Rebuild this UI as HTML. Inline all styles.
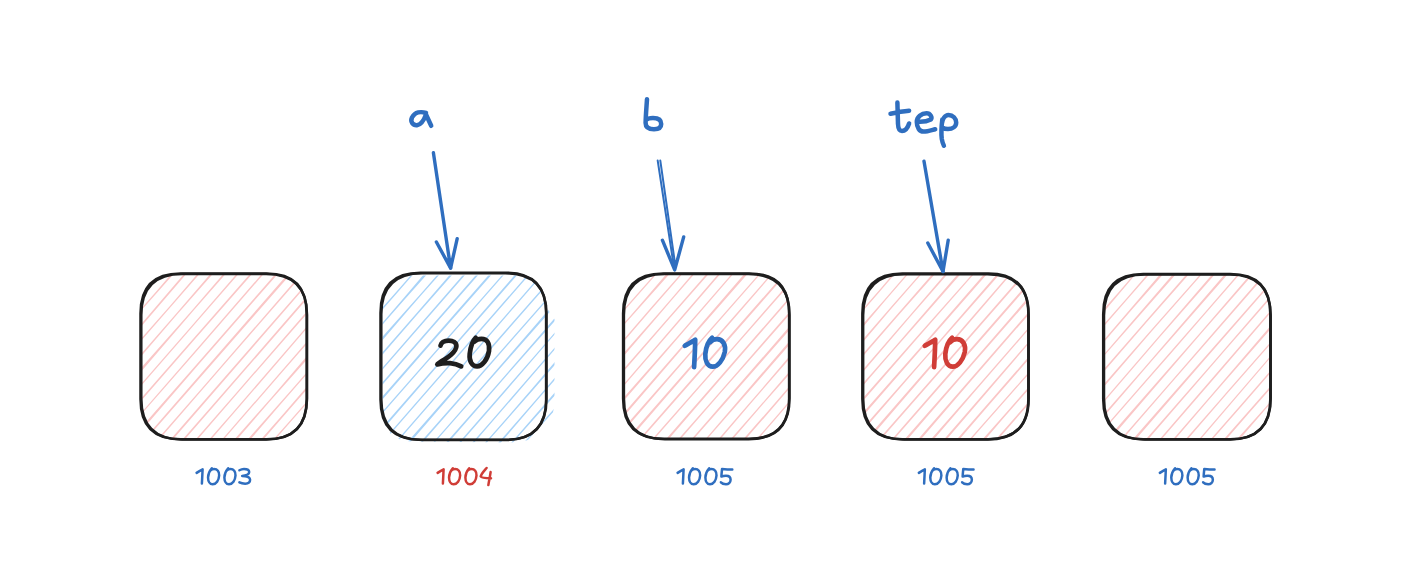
<!DOCTYPE html><html><head><meta charset="utf-8"><style>html,body{margin:0;padding:0;background:#fff;font-family:"Liberation Sans",sans-serif;width:1414px;height:580px;overflow:hidden}svg{display:block}</style></head><body>
<svg width="1414" height="580" viewBox="0 0 1414 580">
<defs>
<clipPath id="c0"><path d="M181.70,274.60 L266.05,274.60 Q306.05,274.60 306.05,314.60 L306.05,398.60 Q306.05,438.60 266.05,438.60 L181.70,438.60 Q141.70,438.60 141.70,398.60 L141.70,314.60 Q141.70,274.60 181.70,274.60 Z"/></clipPath>
<clipPath id="c1"><path d="M414,275.5 L514,275.5 Q545,275.5 545.5,306 L554.5,319 L554.5,398 Q554.5,442.5 509,442.5 L413,441.5 Q382.5,441.5 382.5,409 L382.5,306 Q382.5,275.5 414,275.5 Z"/></clipPath>
<clipPath id="c2"><path d="M664.30,274.50 L748.50,274.50 Q788.50,274.50 788.50,314.50 L788.50,398.20 Q788.50,438.20 748.50,438.20 L664.30,438.20 Q624.30,438.20 624.30,398.20 L624.30,314.50 Q624.30,274.50 664.30,274.50 Z"/></clipPath>
<clipPath id="c3"><path d="M903.55,274.70 L987.70,274.70 Q1027.70,274.70 1027.70,314.70 L1027.70,398.50 Q1027.70,438.50 987.70,438.50 L903.55,438.50 Q863.55,438.50 863.55,398.50 L863.55,314.70 Q863.55,274.70 903.55,274.70 Z"/></clipPath>
<clipPath id="c4"><path d="M1144.40,275.10 L1229.70,275.10 Q1269.70,275.10 1269.70,315.10 L1269.70,398.50 Q1269.70,438.50 1229.70,438.50 L1144.40,438.50 Q1104.40,438.50 1104.40,398.50 L1104.40,315.10 Q1104.40,275.10 1144.40,275.10 Z"/></clipPath>
</defs>
<rect width="100%" height="100%" fill="#fff"/>
<path d="M135.69,271.37Q137.19,269.95 137.87,268.43 M135.94,271.59Q136.83,270.18 138.13,268.66 M135.34,285.97Q143.31,277.41 151.16,268.73 M135.81,286.37Q143.35,277.48 151.64,269.14 M136.05,301.49Q150.09,285.02 164.74,269.27 M136.48,301.85Q150.26,284.97 163.65,268.32 M135.47,315.88Q156.41,292.69 176.69,268.40 M135.51,315.92Q156.61,292.46 177.25,268.89 M135.96,331.20Q162.73,299.82 189.57,268.34 M136.12,331.34Q162.89,300.02 190.01,268.72 M135.84,346.00Q169.65,307.53 202.81,268.59 M135.59,345.78Q169.49,307.62 203.14,268.88 M136.18,361.19Q176.24,314.68 215.75,268.58 M135.80,360.87Q175.74,314.87 216.32,269.07 M135.34,375.37Q182.59,322.36 229.16,268.98 M136.35,376.25Q182.55,322.38 228.73,268.60 M136.00,390.84Q189.11,330.01 241.86,268.75 M135.87,390.72Q188.64,329.88 242.11,268.97 M136.08,405.81Q195.58,337.11 255.46,269.32 M135.76,405.53Q195.09,337.21 255.07,268.98 M135.50,420.20Q201.59,344.82 267.35,268.40 M135.45,420.16Q201.79,344.87 267.51,268.54 M135.39,435.01Q208.36,352.33 280.71,268.75 M136.29,435.79Q208.20,352.08 281.21,269.18 M136.56,449.25Q215.50,358.92 294.18,269.20 M136.34,449.06Q215.06,359.09 293.40,268.52 M149.79,449.49Q227.88,359.06 306.39,268.55 M149.52,449.26Q228.45,359.20 306.75,268.87 M162.65,449.42Q241.24,358.87 319.77,268.92 M163.11,449.82Q241.35,359.26 319.96,269.09 M175.45,449.29Q248.48,365.34 321.73,281.03 M175.06,448.94Q248.54,365.09 321.33,280.69 M188.34,449.23Q254.89,372.54 321.31,295.57 M188.06,448.98Q254.91,372.92 321.69,295.90 M201.63,449.52Q261.52,380.09 321.43,310.57 M201.33,449.26Q261.88,380.43 321.39,310.54 M214.40,449.36Q267.90,387.41 321.83,325.82 M214.25,449.23Q268.34,387.44 321.57,325.59 M226.82,448.90Q274.64,394.88 322.39,341.21 M227.45,449.45Q274.64,395.32 321.28,340.24 M240.79,449.78Q280.95,402.45 322.09,355.85 M239.94,449.05Q281.12,402.67 322.18,355.93 M253.09,449.22Q287.76,410.22 321.52,370.25 M253.72,449.77Q287.77,410.10 322.22,370.86 M265.92,449.11Q293.96,417.17 321.87,385.46 M265.68,448.90Q293.91,417.52 321.58,385.21 M279.75,449.88Q300.79,425.13 321.79,400.29 M279.75,449.88Q300.36,424.73 321.69,400.20 M291.79,449.08Q307.08,432.53 321.49,414.93 M292.57,449.76Q307.10,432.48 321.83,415.22 M304.61,448.96Q313.73,439.92 322.04,430.31 M305.41,449.66Q313.29,439.92 321.82,430.12 M317.86,449.22Q320.24,447.17 322.21,445.36 M317.94,449.30Q320.09,447.05 322.39,445.51" stroke="#fac6c6" stroke-width="1.25" fill="none" clip-path="url(#c0)"/>
<path d="M180.50,273.50 L266.65,273.50 Q306.65,273.50 306.65,313.50 L306.65,399.25 Q306.65,439.25 266.65,439.25 L180.50,439.25 Q140.50,439.25 140.50,399.25 L140.50,313.50 Q140.50,273.50 180.50,273.50 Z" stroke="#1e1e1e" stroke-width="2.5" fill="none"/>
<path d="M182.30,274.10 L266.05,274.10 Q307.05,274.10 307.05,315.10 L307.05,398.55 Q307.05,439.55 266.05,439.55 L182.30,439.55 Q141.30,439.55 141.30,398.55 L141.30,315.10 Q141.30,274.10 182.30,274.10 Z" stroke="#1e1e1e" stroke-width="2.5" fill="none"/>
<path d="M375.45,271.36Q377.78,270.04 378.74,267.63 M375.47,271.38Q377.82,269.96 379.56,268.34 M375.72,286.49Q383.78,277.07 392.17,268.05 M376.47,287.15Q384.02,277.55 392.29,268.16 M375.82,301.48Q390.68,284.62 405.52,268.39 M375.60,301.29Q390.33,284.82 404.82,267.78 M375.61,316.20Q396.74,292.44 417.92,267.91 M375.72,316.30Q397.01,292.44 417.97,267.96 M375.80,331.27Q403.44,299.69 431.48,268.44 M375.93,331.38Q403.40,299.51 430.39,267.49 M375.30,345.73Q409.71,307.11 444.28,268.31 M376.17,346.49Q409.81,307.14 443.99,268.06 M375.97,361.21Q416.15,314.61 457.22,268.30 M375.60,360.89Q416.55,314.58 456.61,267.77 M375.97,376.12Q423.11,322.00 470.14,268.27 M376.04,376.17Q422.87,322.13 469.83,268.01 M375.84,390.90Q429.33,329.71 482.82,268.03 M376.14,391.16Q429.61,329.35 483.24,268.40 M375.97,405.91Q436.02,336.74 496.27,268.47 M375.44,405.45Q435.56,336.79 495.66,267.94 M375.38,420.30Q442.46,344.58 508.89,268.18 M375.48,420.39Q442.39,344.19 508.95,268.23 M376.36,436.05Q448.60,352.06 522.20,268.49 M375.78,435.55Q449.06,352.00 521.62,267.99 M376.06,449.54Q455.54,358.87 534.51,267.93 M376.10,449.58Q455.66,358.70 534.37,267.81 M389.48,449.96Q468.19,358.86 547.47,267.94 M389.57,450.03Q468.22,359.20 547.56,268.01 M402.72,450.20Q481.19,358.83 561.06,268.50 M401.82,449.42Q481.29,358.76 560.83,268.29 M415.23,449.82Q488.50,365.81 561.80,282.41 M414.90,449.53Q488.35,366.04 561.81,282.41 M427.78,449.47Q494.90,373.35 560.77,296.41 M427.76,449.45Q494.87,373.55 561.83,297.33 M440.73,449.46Q501.00,381.03 561.73,312.15 M441.17,449.85Q501.30,381.06 561.11,311.60 M453.90,449.66Q507.76,388.15 560.85,326.28 M453.71,449.49Q507.47,388.13 560.89,326.32 M466.91,449.70Q514.37,395.63 561.06,341.37 M467.13,449.90Q514.12,395.48 560.91,341.24 M479.78,449.64Q520.83,403.21 560.71,355.96 M479.71,449.57Q520.96,402.98 561.27,356.45 M493.42,450.23Q527.17,410.81 561.22,371.30 M492.91,449.79Q527.28,410.89 561.31,371.38 M505.80,449.73Q533.77,418.16 561.70,386.62 M505.88,449.80Q533.38,417.89 561.12,386.11 M518.42,449.45Q539.97,425.36 561.59,401.43 M518.44,449.46Q540.35,425.63 561.71,401.53 M531.63,449.67Q546.47,432.97 560.99,415.80 M531.48,449.54Q546.45,433.23 561.23,416.02 M545.42,450.40Q552.92,440.68 561.36,431.02 M544.62,449.70Q552.77,440.37 561.13,430.82 M557.77,449.87Q559.37,447.89 561.30,445.88 M557.20,449.38Q559.30,447.83 561.02,445.63" stroke="#a8d3f8" stroke-width="1.25" fill="none" clip-path="url(#c1)"/>
<path d="M420.50,272.70 L506.10,272.70 Q546.10,272.70 546.10,312.70 L546.10,399.75 Q546.10,439.75 506.10,439.75 L420.50,439.75 Q380.50,439.75 380.50,399.75 L380.50,312.70 Q380.50,272.70 420.50,272.70 Z" stroke="#1e1e1e" stroke-width="2.5" fill="none"/>
<path d="M422.30,273.30 L505.50,273.30 Q546.50,273.30 546.50,314.30 L546.50,399.05 Q546.50,440.05 505.50,440.05 L422.30,440.05 Q381.30,440.05 381.30,399.05 L381.30,314.30 Q381.30,273.30 422.30,273.30 Z" stroke="#1e1e1e" stroke-width="2.5" fill="none"/>
<path d="M617.95,270.97Q619.58,269.94 620.32,268.20 M618.60,271.54Q619.85,270.16 620.93,268.73 M618.76,286.58Q626.11,277.43 634.30,269.10 M619.09,286.86Q626.31,277.60 633.42,268.33 M617.95,300.77Q632.89,285.04 647.20,269.05 M618.78,301.50Q632.43,284.99 647.17,269.03 M618.51,316.16Q639.31,292.60 660.15,269.05 M618.60,316.24Q639.24,292.53 660.22,269.11 M618.17,330.77Q645.38,299.80 672.14,268.21 M618.02,330.64Q645.64,299.94 673.11,269.05 M618.65,346.08Q652.07,307.07 685.87,268.89 M618.86,346.26Q652.08,307.34 685.95,268.96 M618.69,361.02Q658.70,314.65 698.08,268.24 M617.99,360.41Q658.69,314.62 698.32,268.45 M618.79,376.00Q665.03,322.16 712.13,269.20 M618.47,375.73Q665.19,322.29 711.78,268.89 M618.67,390.80Q671.29,329.55 724.00,268.26 M618.79,390.91Q671.55,329.42 724.27,268.49 M617.97,405.09Q678.09,337.23 737.18,268.46 M618.71,405.74Q677.99,337.11 737.21,268.48 M618.46,420.42Q684.70,344.42 749.96,268.30 M619.08,420.95Q684.17,344.55 750.94,269.16 M618.89,435.69Q690.90,351.90 763.93,269.19 M618.15,435.05Q690.76,352.07 763.91,269.17 M619.16,448.62Q698.23,358.66 776.35,268.73 M619.97,449.34Q698.19,358.96 776.33,268.71 M632.22,448.72Q710.90,358.60 789.75,269.12 M631.94,448.48Q710.88,358.75 789.26,268.69 M645.06,448.62Q723.75,359.03 802.04,268.54 M644.89,448.48Q724.06,358.65 802.53,268.96 M658.96,449.45Q731.62,365.00 804.56,281.44 M658.29,448.87Q731.67,365.15 804.17,281.10 M671.23,448.85Q737.71,372.32 804.21,296.04 M670.92,448.58Q737.72,372.79 804.70,296.46 M684.05,448.74Q744.33,379.84 804.02,310.77 M684.20,448.87Q744.56,380.17 804.85,311.49 M697.46,449.14Q751.07,387.48 804.80,326.35 M697.57,449.23Q750.94,387.43 803.76,325.44 M710.56,449.27Q757.15,394.67 804.47,340.97 M710.77,449.45Q757.26,394.82 803.85,340.42 M722.96,448.79Q764.04,402.23 804.59,355.96 M723.40,449.16Q763.79,402.30 804.06,355.50 M735.76,448.65Q770.05,410.02 803.89,370.26 M736.16,449.00Q770.48,410.07 803.96,370.32 M749.05,448.95Q776.52,417.04 803.86,385.14 M748.92,448.83Q776.55,417.13 803.81,385.08 M762.15,449.07Q783.33,424.66 804.77,400.82 M761.96,448.91Q783.11,424.62 804.33,400.44 M774.49,448.54Q789.94,431.96 804.03,415.08 M775.02,449.00Q789.88,432.01 804.46,415.45 M787.69,448.76Q796.07,439.58 804.00,429.95 M788.52,449.48Q796.36,439.36 804.72,430.58 M800.36,448.51Q802.85,447.04 804.55,445.33 M801.03,449.09Q802.55,447.28 803.70,444.59" stroke="#fac6c6" stroke-width="1.25" fill="none" clip-path="url(#c2)"/>
<path d="M663.10,273.40 L749.10,273.40 Q789.10,273.40 789.10,313.40 L789.10,398.85 Q789.10,438.85 749.10,438.85 L663.10,438.85 Q623.10,438.85 623.10,398.85 L623.10,313.40 Q623.10,273.40 663.10,273.40 Z" stroke="#1e1e1e" stroke-width="2.5" fill="none"/>
<path d="M664.90,274.00 L748.50,274.00 Q789.50,274.00 789.50,315.00 L789.50,398.15 Q789.50,439.15 748.50,439.15 L664.90,439.15 Q623.90,439.15 623.90,398.15 L623.90,315.00 Q623.90,274.00 664.90,274.00 Z" stroke="#1e1e1e" stroke-width="2.5" fill="none"/>
<path d="M858.14,271.99Q859.23,270.14 860.57,269.27 M857.28,271.24Q858.96,270.37 859.72,268.54 M858.28,287.02Q865.51,277.86 873.36,269.13 M857.70,286.51Q865.14,277.87 873.16,268.95 M857.43,301.17Q871.99,285.07 886.55,269.34 M857.30,301.06Q871.98,285.28 885.75,268.64 M857.28,315.94Q878.39,292.67 898.48,268.45 M857.61,316.23Q878.44,292.37 898.67,268.61 M857.51,331.04Q885.13,300.15 911.90,268.86 M858.21,331.65Q884.69,299.94 911.92,268.87 M858.31,346.64Q891.21,307.27 925.15,269.11 M857.75,346.15Q891.28,307.40 925.11,269.08 M857.95,361.23Q897.64,314.73 938.37,269.35 M857.55,360.88Q897.91,314.82 937.76,268.82 M858.11,376.26Q904.28,322.27 951.10,269.15 M858.32,376.45Q904.47,322.28 950.58,268.70 M857.41,390.56Q910.63,330.11 964.08,269.17 M857.74,390.85Q910.59,329.83 963.38,268.57 M857.95,405.93Q917.02,337.27 977.26,269.37 M857.40,405.45Q917.02,337.09 977.29,269.40 M857.22,420.19Q923.95,344.98 989.54,268.79 M858.03,420.90Q923.97,344.69 990.27,269.42 M857.37,435.22Q930.33,351.98 1003.14,269.36 M857.95,435.72Q930.11,352.14 1002.47,268.77 M858.35,448.95Q937.03,359.02 1014.97,268.38 M859.30,449.78Q937.44,358.95 1015.12,268.51 M871.53,449.15Q950.31,359.06 1028.91,269.24 M871.16,448.83Q950.04,359.32 1028.49,268.87 M884.29,448.98Q963.31,358.85 1041.31,268.76 M884.55,449.21Q963.23,358.86 1041.85,269.23 M897.05,448.81Q970.81,365.26 1042.97,281.01 M897.91,449.56Q970.46,365.27 1043.98,281.89 M911.11,449.78Q976.89,372.95 1043.64,296.49 M910.34,449.11Q976.73,372.97 1043.23,296.14 M924.02,449.74Q983.77,380.04 1043.66,311.41 M923.19,449.02Q983.78,380.52 1043.47,311.24 M936.33,449.18Q989.94,387.73 1043.20,325.91 M936.98,449.75Q990.17,387.86 1043.12,325.84 M949.81,449.64Q996.52,395.10 1043.83,341.36 M949.20,449.11Q996.63,394.96 1043.33,340.93 M962.00,448.98Q1002.78,402.41 1043.81,356.24 M961.81,448.81Q1002.83,402.89 1043.56,356.03 M975.79,449.70Q1009.27,409.87 1044.09,371.38 M974.84,448.88Q1009.54,410.06 1043.50,370.87 M987.95,449.02Q1015.96,417.63 1043.40,385.68 M988.57,449.56Q1015.99,417.34 1043.92,386.14 M1001.64,449.66Q1022.40,424.92 1043.25,400.45 M1001.51,449.55Q1022.21,424.85 1043.14,400.36 M1013.76,448.94Q1028.89,432.34 1043.96,415.97 M1014.05,449.19Q1028.84,432.29 1044.09,416.09 M1027.50,449.62Q1035.61,439.68 1043.69,430.63 M1027.10,449.27Q1035.52,440.10 1043.89,430.81 M1039.53,448.82Q1041.56,447.17 1043.25,445.15 M1040.66,449.80Q1042.05,447.27 1043.60,445.46" stroke="#fac6c6" stroke-width="1.25" fill="none" clip-path="url(#c3)"/>
<path d="M902.35,273.60 L988.30,273.60 Q1028.30,273.60 1028.30,313.60 L1028.30,399.15 Q1028.30,439.15 988.30,439.15 L902.35,439.15 Q862.35,439.15 862.35,399.15 L862.35,313.60 Q862.35,273.60 902.35,273.60 Z" stroke="#1e1e1e" stroke-width="2.5" fill="none"/>
<path d="M904.15,274.20 L987.70,274.20 Q1028.70,274.20 1028.70,315.20 L1028.70,398.45 Q1028.70,439.45 987.70,439.45 L904.15,439.45 Q863.15,439.45 863.15,398.45 L863.15,315.20 Q863.15,274.20 904.15,274.20 Z" stroke="#1e1e1e" stroke-width="2.5" fill="none"/>
<path d="M1099.04,272.44Q1099.65,270.82 1100.93,269.25 M1099.14,272.52Q1099.85,270.74 1100.52,268.89 M1098.26,286.66Q1106.06,277.97 1113.79,269.16 M1098.30,286.69Q1106.36,277.97 1114.06,269.40 M1098.01,301.34Q1112.86,285.41 1126.69,269.12 M1098.37,301.65Q1112.93,285.60 1126.54,268.99 M1098.07,316.29Q1119.16,293.05 1139.37,268.88 M1098.77,316.90Q1119.02,293.13 1139.36,268.87 M1098.49,331.56Q1125.58,300.71 1152.54,269.07 M1098.37,331.45Q1125.61,300.43 1152.88,269.37 M1099.04,346.93Q1132.09,307.77 1166.35,269.82 M1098.88,346.79Q1131.88,308.14 1165.40,268.99 M1098.51,361.37Q1138.60,315.58 1179.09,269.64 M1098.55,361.41Q1138.36,315.40 1178.30,268.95 M1098.77,376.50Q1144.88,322.89 1192.15,269.73 M1098.44,376.22Q1144.92,322.71 1191.66,269.30 M1098.63,391.27Q1151.37,330.27 1205.12,269.75 M1098.97,391.57Q1151.42,330.08 1205.17,269.79 M1099.14,406.62Q1158.07,337.49 1218.14,269.80 M1099.11,406.60Q1158.33,337.79 1217.43,269.18 M1098.99,421.39Q1164.73,345.03 1230.11,268.94 M1098.48,420.95Q1164.76,345.01 1230.93,269.66 M1098.26,435.66Q1171.04,352.56 1243.35,269.19 M1098.14,435.56Q1171.17,352.83 1243.16,269.03 M1099.39,448.82Q1178.34,359.06 1256.50,269.37 M1100.36,449.66Q1178.24,359.33 1255.96,268.90 M1113.05,449.43Q1191.09,359.34 1269.14,269.10 M1112.81,449.22Q1191.11,359.27 1269.56,269.47 M1125.28,448.80Q1204.08,359.16 1282.47,269.42 M1126.17,449.58Q1204.06,359.13 1282.66,269.59 M1138.77,449.27Q1211.93,364.89 1285.03,280.14 M1138.31,448.87Q1212.16,364.68 1285.43,280.49 M1151.92,449.44Q1218.77,372.52 1285.00,295.01 M1151.77,449.31Q1218.63,372.31 1284.96,294.98 M1165.26,449.77Q1225.32,380.08 1285.06,309.97 M1164.99,449.54Q1224.92,380.08 1285.88,310.68 M1177.65,449.29Q1231.83,387.10 1286.05,325.73 M1178.01,449.60Q1231.32,387.20 1286.02,325.70 M1190.92,449.57Q1238.30,394.61 1285.09,339.79 M1191.00,449.63Q1238.06,394.94 1285.07,339.77 M1203.22,448.99Q1244.54,402.08 1285.21,354.80 M1203.01,448.81Q1244.33,402.40 1285.12,354.71 M1216.74,449.49Q1250.81,409.77 1285.98,370.36 M1216.06,448.90Q1251.09,409.55 1285.54,369.98 M1229.92,449.69Q1257.53,417.27 1285.57,384.91 M1229.00,448.88Q1257.56,417.02 1286.10,385.37 M1242.78,449.61Q1264.26,424.56 1285.22,399.50 M1242.26,449.15Q1263.93,424.35 1285.82,400.03 M1255.67,449.56Q1270.63,431.84 1284.95,414.17 M1255.55,449.45Q1270.49,432.06 1286.08,415.16 M1268.10,449.10Q1276.63,439.24 1284.90,429.03 M1268.47,449.42Q1276.92,439.63 1285.42,429.48 M1280.84,448.91Q1283.48,446.62 1285.17,444.16 M1280.68,448.78Q1283.15,446.80 1285.32,444.30" stroke="#fac6c6" stroke-width="1.25" fill="none" clip-path="url(#c4)"/>
<path d="M1143.20,274.00 L1230.30,274.00 Q1270.30,274.00 1270.30,314.00 L1270.30,399.15 Q1270.30,439.15 1230.30,439.15 L1143.20,439.15 Q1103.20,439.15 1103.20,399.15 L1103.20,314.00 Q1103.20,274.00 1143.20,274.00 Z" stroke="#1e1e1e" stroke-width="2.5" fill="none"/>
<path d="M1145.00,274.60 L1229.70,274.60 Q1270.70,274.60 1270.70,315.60 L1270.70,398.45 Q1270.70,439.45 1229.70,439.45 L1145.00,439.45 Q1104.00,439.45 1104.00,398.45 L1104.00,315.60 Q1104.00,274.60 1145.00,274.60 Z" stroke="#1e1e1e" stroke-width="2.5" fill="none"/>
<path d="M426,113 C421,111.3 415,112 412,117.5 C410,122 413,125.5 417,125.2 C421,124.8 424,120 426,114.5 L431.2,125.8" stroke="#2f6ebf" stroke-width="4.5" fill="none" stroke-linecap="round" stroke-linejoin="round"/>
<path d="M647,99.2 C646.5,107 645.7,116 645.6,123 C645.6,127 648,129.2 654,129.2 C659,129.2 661.2,127 661.2,124 C661.2,120 658,118 653,118 C650,118 647,119 646,120" stroke="#2f6ebf" stroke-width="4.5" fill="none" stroke-linecap="round" stroke-linejoin="round"/>
<path d="M897.4,102.6 C897.6,110 897.8,118 898,124 C898.2,129 899.5,131 902,131 C905,131 907.5,128.5 909.1,123.5 M890.5,113.8 C896,112.6 903,111.3 909.1,110.8" stroke="#2f6ebf" stroke-width="4.5" fill="none" stroke-linecap="round" stroke-linejoin="round"/>
<path d="M920,121.8 C923,121.8 928,121 930.8,119.5 C932.5,117.5 930.5,113.3 926.5,113.3 C921.5,113.3 916.8,117 916.8,122 C916.8,127.5 919.5,131.6 923.5,131.6 C927.5,131.6 932,130 935.2,129.2" stroke="#2f6ebf" stroke-width="4.5" fill="none" stroke-linecap="round" stroke-linejoin="round"/>
<path d="M942.3,119.5 C941.5,126 941,133 941.8,139 C942.3,142 943,144 943.9,145.7 M941.8,124 C942.5,119 945,115 948.5,115 C953,115 956.2,118.5 956.2,122.5 C956.2,126.5 952.5,129 948,129 C945.5,129 943.5,128.3 942.2,127.5" stroke="#2f6ebf" stroke-width="4.5" fill="none" stroke-linecap="round" stroke-linejoin="round"/>
<path d="M433.4,152.8 L450.6,268.1" stroke="#2f6ebf" stroke-width="3.4" fill="none" stroke-linecap="round" stroke-linejoin="round"/><path d="M436.4,242 L450.6,268.1 L457.2,238.7" stroke="#2f6ebf" stroke-width="3.4" fill="none" stroke-linecap="round" stroke-linejoin="round"/><path d="M450.60,268.10 L446.34,260.27 L448.98,257.22 L452.25,260.75 Z" fill="#2f6ebf" stroke="#2f6ebf" stroke-width="1" stroke-linejoin="round"/>
<path d="M657.7,160.6 L673.9000000000001,266.9" stroke="#2f6ebf" stroke-width="2.0" fill="none" stroke-linecap="round" stroke-linejoin="round"/><path d="M660.3,160.6 L675.5,266.9" stroke="#2f6ebf" stroke-width="2.0" fill="none" stroke-linecap="round" stroke-linejoin="round"/><path d="M662.4,240.2 L674.7,269.9 L683.7,236.9" stroke="#2f6ebf" stroke-width="3.4" fill="none" stroke-linecap="round" stroke-linejoin="round"/><path d="M674.70,269.90 L671.01,260.99 L673.14,259.01 L676.95,261.65 Z" fill="#2f6ebf" stroke="#2f6ebf" stroke-width="1" stroke-linejoin="round"/>
<path d="M924,161.2 L943,271.5" stroke="#2f6ebf" stroke-width="3.4" fill="none" stroke-linecap="round" stroke-linejoin="round"/><path d="M927.8,243 L943,271.5 L948.2,240.2" stroke="#2f6ebf" stroke-width="3.4" fill="none" stroke-linecap="round" stroke-linejoin="round"/><path d="M943.00,271.50 L938.44,262.95 L941.13,260.66 L944.30,263.68 Z" fill="#2f6ebf" stroke="#2f6ebf" stroke-width="1" stroke-linejoin="round"/>
<path d="M440.5,345.6 C441,342.8 444,340.6 448.7,340.6 C453,340.6 456.4,342.5 456.4,346 C456.4,349.5 453.5,352.5 451,354.8 C448,357.5 445,359 442.8,360.5 C440.5,362 438,363.5 437.3,364.4 C441,363.5 445,363 450,363.2 C455,363.6 459,365.2 461.2,366.4" stroke="#1e1e1e" stroke-width="4.7" fill="none" stroke-linecap="round" stroke-linejoin="round"/>
<path d="M475.8,337.8 C473,340.5 470.5,347 469.7,354 C469,361 472,366.4 477.1,366.4 C482,366.4 487.5,360 489,351 C490,343 487,338.8 481.5,338.8 C478,338.8 476,339.8 474.6,341.5" stroke="#1e1e1e" stroke-width="4.7" fill="none" stroke-linecap="round" stroke-linejoin="round"/>
<path d="M684.8,345.8 C688,344 692,341.8 695.2,339.8 C695.2,346 694.6,358 694.1,367.1" stroke="#2f6ebf" stroke-width="4.7" fill="none" stroke-linecap="round" stroke-linejoin="round" transform="translate(0,0)"/>
<path d="M712.1,337.8 C709,340.5 706,347 705.3,354 C704.8,361 707.5,366.7 712.7,366.7 C718,366.7 723,360 724.8,352 C726,345 723,339.2 717,339.2 C714,339.2 711.5,340.5 710.3,342.2" stroke="#2f6ebf" stroke-width="4.7" fill="none" stroke-linecap="round" stroke-linejoin="round" transform="translate(0,0)"/>
<path d="M684.8,345.8 C688,344 692,341.8 695.2,339.8 C695.2,346 694.6,358 694.1,367.1" stroke="#d03d37" stroke-width="4.7" fill="none" stroke-linecap="round" stroke-linejoin="round" transform="translate(240,0)"/>
<path d="M712.1,337.8 C709,340.5 706,347 705.3,354 C704.8,361 707.5,366.7 712.7,366.7 C718,366.7 723,360 724.8,352 C726,345 723,339.2 717,339.2 C714,339.2 711.5,340.5 710.3,342.2" stroke="#d03d37" stroke-width="4.7" fill="none" stroke-linecap="round" stroke-linejoin="round" transform="translate(240,0)"/>
<g transform="translate(-481.00,0)"><path d="M677.6,472.9 C679.5,471.6 681.5,470.3 683.6,469.3 C683.4,474 683.1,479 682.9,483.5" stroke="#2f6ebf" stroke-width="2.5" fill="none" stroke-linecap="round" stroke-linejoin="round"/><path d="M692.80,468.25 C691.05,470.30 689.05,473.70 689.05,477.50 C689.05,481.30 690.85,484.30 693.65,484.30 C697.15,484.30 699.85,480.30 700.15,475.50 C700.45,471.30 698.15,469.05 695.15,469.05 C693.65,469.05 692.35,469.60 691.55,470.50" stroke="#2f6ebf" stroke-width="2.5" fill="none" stroke-linecap="round" stroke-linejoin="round"/><path d="M709.15,468.25 C707.40,470.30 705.40,473.70 705.40,477.50 C705.40,481.30 707.20,484.30 710.00,484.30 C713.50,484.30 716.20,480.30 716.50,475.50 C716.80,471.30 714.50,469.05 711.50,469.05 C710.00,469.05 708.70,469.60 707.90,470.50" stroke="#2f6ebf" stroke-width="2.5" fill="none" stroke-linecap="round" stroke-linejoin="round"/><path d="M239.4,470.3 C241,469.3 242.5,468.9 244,468.9 C247,468.9 249.2,469.8 249.2,472 C249.2,474.3 246,475.6 242.1,475.9 C246.5,475.9 250.1,477.3 250.1,479.8 C250.1,482.3 248,483.7 245.2,483.7 C242.5,483.7 240.5,483 239.4,482.4" stroke="#2f6ebf" stroke-width="2.5" fill="none" stroke-linecap="round" stroke-linejoin="round" transform="translate(481,0)"/></g>
<g transform="translate(-240.00,0)"><path d="M677.6,472.9 C679.5,471.6 681.5,470.3 683.6,469.3 C683.4,474 683.1,479 682.9,483.5" stroke="#d03d37" stroke-width="2.5" fill="none" stroke-linecap="round" stroke-linejoin="round"/><path d="M692.80,468.25 C691.05,470.30 689.05,473.70 689.05,477.50 C689.05,481.30 690.85,484.30 693.65,484.30 C697.15,484.30 699.85,480.30 700.15,475.50 C700.45,471.30 698.15,469.05 695.15,469.05 C693.65,469.05 692.35,469.60 691.55,470.50" stroke="#d03d37" stroke-width="2.5" fill="none" stroke-linecap="round" stroke-linejoin="round"/><path d="M709.15,468.25 C707.40,470.30 705.40,473.70 705.40,477.50 C705.40,481.30 707.20,484.30 710.00,484.30 C713.50,484.30 716.20,480.30 716.50,475.50 C716.80,471.30 714.50,469.05 711.50,469.05 C710.00,469.05 708.70,469.60 707.90,470.50" stroke="#d03d37" stroke-width="2.5" fill="none" stroke-linecap="round" stroke-linejoin="round"/><path d="M486.6,468 C484,471 481,474 480.7,476.5 C481.5,478 486,478.3 491,478.3 M490.6,472.1 C490,476.5 489,481 488.35,485.1" stroke="#d03d37" stroke-width="2.5" fill="none" stroke-linecap="round" stroke-linejoin="round" transform="translate(240,0)"/></g>
<g transform="translate(0.00,0)"><path d="M677.6,472.9 C679.5,471.6 681.5,470.3 683.6,469.3 C683.4,474 683.1,479 682.9,483.5" stroke="#2f6ebf" stroke-width="2.5" fill="none" stroke-linecap="round" stroke-linejoin="round"/><path d="M692.80,468.25 C691.05,470.30 689.05,473.70 689.05,477.50 C689.05,481.30 690.85,484.30 693.65,484.30 C697.15,484.30 699.85,480.30 700.15,475.50 C700.45,471.30 698.15,469.05 695.15,469.05 C693.65,469.05 692.35,469.60 691.55,470.50" stroke="#2f6ebf" stroke-width="2.5" fill="none" stroke-linecap="round" stroke-linejoin="round"/><path d="M709.15,468.25 C707.40,470.30 705.40,473.70 705.40,477.50 C705.40,481.30 707.20,484.30 710.00,484.30 C713.50,484.30 716.20,480.30 716.50,475.50 C716.80,471.30 714.50,469.05 711.50,469.05 C710.00,469.05 708.70,469.60 707.90,470.50" stroke="#2f6ebf" stroke-width="2.5" fill="none" stroke-linecap="round" stroke-linejoin="round"/><path d="M732.3,469.5 C729,469.6 725,469.2 722.05,468.9 C721.8,471.5 721.5,474 721.4,476.6 C722.8,476 724.3,475.8 726,475.8 C729,475.8 730.6,477.5 730.6,479.8 C730.6,482.5 728.5,484.2 726,484.2 C723.8,484.2 721.8,483.3 720.9,482.3" stroke="#2f6ebf" stroke-width="2.5" fill="none" stroke-linecap="round" stroke-linejoin="round"/></g>
<g transform="translate(241.24,0)"><path d="M677.6,472.9 C679.5,471.6 681.5,470.3 683.6,469.3 C683.4,474 683.1,479 682.9,483.5" stroke="#2f6ebf" stroke-width="2.5" fill="none" stroke-linecap="round" stroke-linejoin="round"/><path d="M692.80,468.25 C691.05,470.30 689.05,473.70 689.05,477.50 C689.05,481.30 690.85,484.30 693.65,484.30 C697.15,484.30 699.85,480.30 700.15,475.50 C700.45,471.30 698.15,469.05 695.15,469.05 C693.65,469.05 692.35,469.60 691.55,470.50" stroke="#2f6ebf" stroke-width="2.5" fill="none" stroke-linecap="round" stroke-linejoin="round"/><path d="M709.15,468.25 C707.40,470.30 705.40,473.70 705.40,477.50 C705.40,481.30 707.20,484.30 710.00,484.30 C713.50,484.30 716.20,480.30 716.50,475.50 C716.80,471.30 714.50,469.05 711.50,469.05 C710.00,469.05 708.70,469.60 707.90,470.50" stroke="#2f6ebf" stroke-width="2.5" fill="none" stroke-linecap="round" stroke-linejoin="round"/><path d="M732.3,469.5 C729,469.6 725,469.2 722.05,468.9 C721.8,471.5 721.5,474 721.4,476.6 C722.8,476 724.3,475.8 726,475.8 C729,475.8 730.6,477.5 730.6,479.8 C730.6,482.5 728.5,484.2 726,484.2 C723.8,484.2 721.8,483.3 720.9,482.3" stroke="#2f6ebf" stroke-width="2.5" fill="none" stroke-linecap="round" stroke-linejoin="round"/></g>
<g transform="translate(482.24,0)"><path d="M677.6,472.9 C679.5,471.6 681.5,470.3 683.6,469.3 C683.4,474 683.1,479 682.9,483.5" stroke="#2f6ebf" stroke-width="2.5" fill="none" stroke-linecap="round" stroke-linejoin="round"/><path d="M692.80,468.25 C691.05,470.30 689.05,473.70 689.05,477.50 C689.05,481.30 690.85,484.30 693.65,484.30 C697.15,484.30 699.85,480.30 700.15,475.50 C700.45,471.30 698.15,469.05 695.15,469.05 C693.65,469.05 692.35,469.60 691.55,470.50" stroke="#2f6ebf" stroke-width="2.5" fill="none" stroke-linecap="round" stroke-linejoin="round"/><path d="M709.15,468.25 C707.40,470.30 705.40,473.70 705.40,477.50 C705.40,481.30 707.20,484.30 710.00,484.30 C713.50,484.30 716.20,480.30 716.50,475.50 C716.80,471.30 714.50,469.05 711.50,469.05 C710.00,469.05 708.70,469.60 707.90,470.50" stroke="#2f6ebf" stroke-width="2.5" fill="none" stroke-linecap="round" stroke-linejoin="round"/><path d="M732.3,469.5 C729,469.6 725,469.2 722.05,468.9 C721.8,471.5 721.5,474 721.4,476.6 C722.8,476 724.3,475.8 726,475.8 C729,475.8 730.6,477.5 730.6,479.8 C730.6,482.5 728.5,484.2 726,484.2 C723.8,484.2 721.8,483.3 720.9,482.3" stroke="#2f6ebf" stroke-width="2.5" fill="none" stroke-linecap="round" stroke-linejoin="round"/></g>
</svg></body></html>
